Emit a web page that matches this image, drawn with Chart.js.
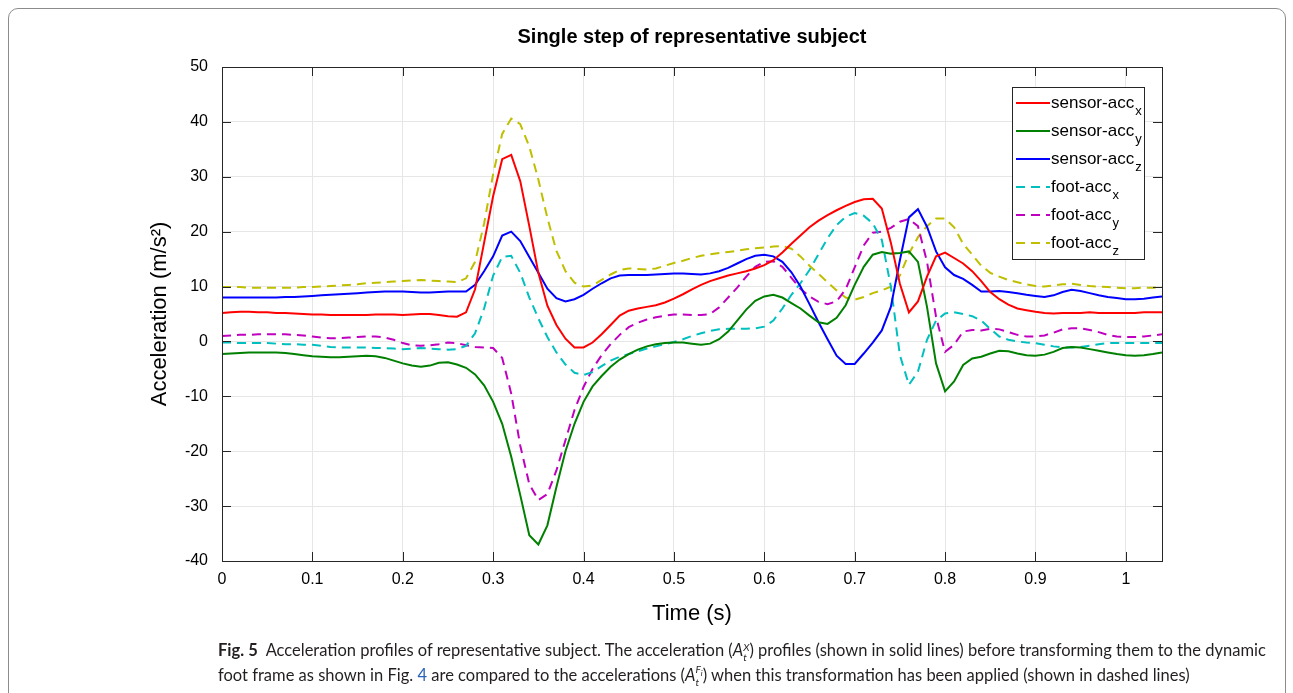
<!DOCTYPE html>
<html>
<head>
<meta charset="utf-8">
<title>Single step of representative subject</title>
<script src="https://cdn.jsdelivr.net/npm/chart.js@4.4.1/dist/chart.umd.min.js"></script>
<style>
    body { margin: 0; background: #fff; }
    #frame {
        position: absolute; left: 8px; top: 8px; width: 1276px; height: 720px;
        border: 1px solid #8c8c8c; border-radius: 10px;
    }
    #wrap { position: absolute; left: 0; top: 0; width: 1293px; height: 693px; }
    .caption {
        position: absolute; left: 218px; top: 638px;
        font-family: Lato, "Noto Sans", sans-serif; font-size: 16.5px; line-height: 25px;
        color: #231f20; white-space: nowrap;
    }
    .caption b { font-weight: 700; }
    .caption .lnk { color: #2a63b8; }
    .stack { display: inline-block; vertical-align: -0.45em; font-size: 0.62em; line-height: 0.95; text-align: left; }
    .stack span { display: block; }
</style>
</head>
<body>
<div id="frame"></div>
<div id="wrap"><canvas id="chart"></canvas></div>
<div class="caption">
    <div><b>Fig. 5</b>&nbsp; Acceleration profiles of representative subject. The acceleration (<i>A</i><span class="stack"><span><i>X</i></span><span><i>t</i></span></span>) profiles (shown in solid lines) before transforming them to the dynamic</div>
    <div>foot frame as shown in Fig. <span class="lnk">4</span> are compared to the accelerations (<i>A</i><span class="stack"><span><i>F<sub style="font-size:0.8em">i</sub></i></span><span><i>t</i></span></span>) when this transformation has been applied (shown in dashed lines)</div>
</div>
<script>
// Datos (muestras cada 0.01 s)
const times = [0, 0.01, 0.02, 0.03, 0.04, 0.05, 0.06, 0.07, 0.08, 0.09,
    0.1, 0.11, 0.12, 0.13, 0.14, 0.15, 0.16, 0.17, 0.18, 0.19,
    0.2, 0.21, 0.22, 0.23, 0.24, 0.25, 0.26, 0.27, 0.28, 0.29,
    0.3, 0.31, 0.32, 0.33, 0.34, 0.35, 0.36, 0.37, 0.38, 0.39,
    0.4, 0.41, 0.42, 0.43, 0.44, 0.45, 0.46, 0.47, 0.48, 0.49,
    0.5, 0.51, 0.52, 0.53, 0.54, 0.55, 0.56, 0.57, 0.58, 0.59,
    0.6, 0.61, 0.62, 0.63, 0.64, 0.65, 0.66, 0.67, 0.68, 0.69,
    0.7, 0.71, 0.72, 0.73, 0.74, 0.75, 0.76, 0.77, 0.78, 0.79,
    0.8, 0.81, 0.82, 0.83, 0.84, 0.85, 0.86, 0.87, 0.88, 0.89,
    0.9, 0.91, 0.92, 0.93, 0.94, 0.95, 0.96, 0.97, 0.98, 0.99,
    1, 1.01, 1.02, 1.03, 1.04];

const sensorAccX = [5.2, 5.3, 5.4, 5.4, 5.3, 5.3, 5.2, 5.2, 5.1, 5.0,
    4.9, 4.9, 4.8, 4.8, 4.8, 4.8, 4.8, 4.9, 4.9, 4.9,
    4.8, 4.9, 5.0, 5.0, 4.8, 4.6, 4.5, 5.3, 9.5, 18,
    26.5, 33.2, 34.0, 29.2, 21.0, 12.5, 6.5, 3.0, 0.5, -1.1,
    -1.1, -0.2, 1.3, 3.0, 4.7, 5.6, 6.0, 6.3, 6.6, 7.1,
    7.8, 8.6, 9.5, 10.3, 11.0, 11.5, 12.0, 12.4, 12.8, 13.3,
    13.9, 14.8, 16.2, 17.8, 19.3, 20.8, 22.0, 23.0, 23.9, 24.7,
    25.4, 25.9, 26.0, 24.2, 18.0, 10.5, 5.3, 7.3, 11.8, 15.5,
    16.2, 15.2, 14.2, 12.8, 11.0, 9.0, 7.7, 6.7, 6.0, 5.7,
    5.4, 5.2, 5.1, 5.2, 5.2, 5.2, 5.3, 5.2, 5.2, 5.2,
    5.2, 5.2, 5.3, 5.3, 5.3];

const sensorAccY = [-2.3, -2.2, -2.1, -2.0, -2.0, -2.0, -2.0, -2.1, -2.3, -2.5,
    -2.7, -2.8, -2.9, -2.9, -2.8, -2.7, -2.6, -2.7, -3.0, -3.5,
    -4.0, -4.4, -4.6, -4.4, -3.9, -3.8, -4.2, -4.8, -6.0, -8.0,
    -11.0, -15.0, -21.0, -28.0, -35.3, -37.0, -33.5, -26.5, -20.0, -15.0,
    -11.0, -8.2, -6.3, -4.6, -3.3, -2.3, -1.5, -0.9, -0.5, -0.3,
    -0.2, -0.2, -0.4, -0.6, -0.4, 0.4, 1.8, 3.8, 5.8, 7.4,
    8.2, 8.5, 8.0, 7.0, 6.0, 4.7, 3.5, 3.2, 4.3, 6.6,
    10.3, 13.6, 15.8, 16.3, 16.0, 16.1, 16.4, 14.5, 6.3, -4.0,
    -9.1, -7.3, -4.3, -3.1, -2.8, -2.2, -1.7, -1.8, -2.2, -2.5,
    -2.6, -2.4, -1.9, -1.2, -1.0, -1.1, -1.4, -1.7, -2.0, -2.3,
    -2.5, -2.6, -2.5, -2.3, -2.0];

const sensorAccZ = [8.0, 8.0, 8.0, 8.0, 8.0, 8.0, 8.0, 8.1, 8.1, 8.2,
    8.3, 8.4, 8.5, 8.6, 8.7, 8.8, 8.9, 9.0, 9.1, 9.1,
    9.1, 9.0, 8.9, 8.9, 9.0, 9.1, 9.1, 9.1, 10.3, 12.8,
    15.5, 19.3, 20.0, 18.3, 15.4, 12.5, 9.6, 7.9, 7.3, 7.7,
    8.5, 9.6, 10.6, 11.5, 12.0, 12.1, 12.1, 12.1, 12.2, 12.3,
    12.4, 12.4, 12.3, 12.2, 12.4, 12.8, 13.4, 14.2, 15.0, 15.6,
    15.8, 15.5, 14.5, 12.6, 10.0, 6.8, 3.5, 0.4, -2.6, -4.1,
    -4.1, -2.2, -0.2, 2.0, 6.3, 14.8, 22.6, 24.1, 20.9, 16.4,
    13.5, 12.1, 11.4, 10.3, 9.1, 9.1, 9.2, 9.0, 8.8, 8.5,
    8.3, 8.1, 8.4, 9.0, 9.4, 9.2, 8.8, 8.4, 8.1, 7.9,
    7.7, 7.7, 7.8, 8.0, 8.2];

const footAccX = [-0.2, -0.2, -0.3, -0.3, -0.3, -0.3, -0.4, -0.5, -0.5, -0.6,
    -0.6, -0.8, -1.0, -1.1, -1.1, -1.1, -1.1, -1.2, -1.2, -1.3,
    -1.4, -1.3, -1.2, -1.3, -1.4, -1.5, -1.4, -0.8, 1.5, 6.0,
    12.0, 15.4, 15.6, 12.5, 8.0, 4.2, 0.8, -2.0, -4.2, -5.7,
    -6.1, -5.6, -4.5, -3.5, -2.8, -2.3, -1.8, -1.3, -0.9, -0.5,
    -0.1, 0.4, 1.0, 1.5, 1.9, 2.2, 2.3, 2.3, 2.3, 2.4,
    2.7, 3.8, 6.0, 8.5, 10.6, 13.0, 15.9, 18.8, 21.2, 22.7,
    23.4, 22.9, 21.5, 18.5, 10.0, -2.5, -7.9, -5.5, 0.3, 3.8,
    5.1, 5.3, 5.0, 4.6, 3.8, 2.3, 0.9, 0.3, 0.0, -0.2,
    -0.3, -0.6, -0.9, -1.1, -1.1, -1.0, -0.8, -0.5, -0.3, -0.3,
    -0.3, -0.3, -0.3, -0.3, -0.3];

const footAccY = [1.0, 1.1, 1.2, 1.2, 1.3, 1.3, 1.3, 1.3, 1.2, 1.1,
    0.9, 0.7, 0.6, 0.6, 0.7, 0.8, 0.9, 0.9, 0.7, 0.3,
    -0.3, -0.7, -0.8, -0.7, -0.5, -0.2, -0.3, -0.7, -1.0, -1.1,
    -1.2, -3.0, -9.5, -19.0, -26.0, -28.9, -27.8, -23.5, -18.0, -12.5,
    -8.3, -5.0, -2.5, -0.5, 1.2, 2.6, 3.4, 4.0, 4.4, 4.7,
    4.9, 4.9, 4.8, 4.8, 5.0, 6.2, 8.0, 9.8, 11.8, 13.6,
    14.5, 14.6, 13.6, 11.6, 9.6, 8.2, 7.2, 6.8, 7.3, 9.5,
    13.5, 17.5, 19.8, 20.0, 20.7, 21.8, 22.3, 21.0, 14.5, 4.5,
    -1.9, -0.6, 1.8, 2.1, 2.0, 2.3, 2.2, 1.7, 1.2, 0.9,
    0.9, 1.1, 1.6, 2.2, 2.4, 2.4, 2.1, 1.7, 1.2, 0.9,
    0.8, 0.8, 0.9, 1.1, 1.3];

const footAccZ = [9.9, 9.9, 9.9, 9.8, 9.8, 9.8, 9.8, 9.8, 9.8, 9.9,
    9.9, 10.0, 10.1, 10.2, 10.3, 10.4, 10.6, 10.7, 10.8, 10.9,
    11.0, 11.1, 11.2, 11.1, 11.0, 10.9, 10.8, 11.5, 14.5, 21.5,
    30.5, 37.8, 40.6, 39.6, 35.5, 29.5, 22.5, 16.5, 12.8, 10.7,
    10.0, 10.2, 11.2, 12.2, 13.0, 13.3, 13.2, 13.1, 13.3, 13.8,
    14.3, 14.7, 15.2, 15.6, 15.9, 16.1, 16.3, 16.5, 16.8, 17.0,
    17.1, 17.3, 17.4, 16.9, 15.5, 13.8, 12.3, 10.8, 9.3, 8.0,
    7.6, 8.1, 8.8, 9.3, 10.0, 12.0, 16.0, 19.0, 21.0, 22.4,
    22.4, 20.8, 17.8, 15.8, 13.8, 12.5, 11.8, 11.2, 10.8, 10.4,
    10.1, 10.0, 10.2, 10.4, 10.5, 10.3, 10.1, 10.0, 9.9, 9.8,
    9.7, 9.7, 9.8, 9.8, 9.9];

// Nombres de series (texto base + subíndice)
const seriesNames = ['sensor-acc', 'sensor-acc', 'sensor-acc', 'foot-acc', 'foot-acc', 'foot-acc'];
const seriesSubs = ['x', 'y', 'z', 'x', 'y', 'z'];
const seriesValues = [sensorAccX, sensorAccY, sensorAccZ, footAccX, footAccY, footAccZ];
const seriesColors = ['#ff0000', '#008000', '#0000ff', '#00bfbf', '#bf00bf', '#bfbf00'];
const seriesDashed = [false, false, false, true, true, true];

// Marcas de los ejes
const xTicks = [0, 0.1, 0.2, 0.3, 0.4, 0.5, 0.6, 0.7, 0.8, 0.9, 1];
const yTicks = [-40, -30, -20, -10, 0, 10, 20, 30, 40, 50];

const axisColor = '#262626';
const fontFamily = '"Liberation Sans", Arial, Helvetica, sans-serif';

// Caja del eje con marcas hacia adentro (estilo MATLAB)
const boxPlugin = {
    id: 'boxTicks',
    afterDatasetsDraw(chart) {
        const { ctx, chartArea: a, scales } = chart;
        const tl = 9;
        ctx.save();
        ctx.strokeStyle = axisColor;
        ctx.lineWidth = 1;
        ctx.beginPath();
        xTicks.forEach(v => {
            const px = Math.round(scales.x.getPixelForValue(v)) + 0.5;
            ctx.moveTo(px, a.bottom); ctx.lineTo(px, a.bottom - tl);
            ctx.moveTo(px, a.top); ctx.lineTo(px, a.top + tl);
        });
        yTicks.forEach(v => {
            const py = Math.round(scales.y.getPixelForValue(v)) + 0.5;
            ctx.moveTo(a.left, py); ctx.lineTo(a.left + tl, py);
            ctx.moveTo(a.right, py); ctx.lineTo(a.right - tl, py);
        });
        ctx.stroke();
        ctx.strokeRect(Math.round(a.left) + 0.5, Math.round(a.top) + 0.5,
            Math.round(a.right - a.left), Math.round(a.bottom - a.top));
        ctx.restore();
    }
};

// Leyenda con subíndices
const legendPlugin = {
    id: 'subLegend',
    afterDraw(chart) {
        const { ctx, chartArea: a } = chart;
        const w = 132, h = 172, rowH = 28;
        const x0 = a.right - 150, y0 = a.top + 20;
        ctx.save();
        ctx.fillStyle = '#fff';
        ctx.fillRect(x0, y0, w, h);
        ctx.strokeStyle = axisColor;
        ctx.lineWidth = 1;
        ctx.strokeRect(x0 + 0.5, y0 + 0.5, w, h);
        chart.data.datasets.forEach((ds, i) => {
            const cy = y0 + 16 + i * rowH;
            ctx.strokeStyle = ds.borderColor;
            ctx.lineWidth = 2;
            ctx.setLineDash(ds.borderDash || []);
            ctx.beginPath();
            ctx.moveTo(x0 + 4, cy);
            ctx.lineTo(x0 + 38, cy);
            ctx.stroke();
            ctx.setLineDash([]);
            ctx.fillStyle = '#000';
            ctx.textBaseline = 'middle';
            ctx.font = '17px ' + fontFamily;
            ctx.fillText(seriesNames[i], x0 + 39, cy);
            const tw = ctx.measureText(seriesNames[i]).width;
            ctx.font = '13px ' + fontFamily;
            ctx.fillText(seriesSubs[i], x0 + 40 + tw, cy + 8);
        });
        ctx.restore();
    }
};

const datasets = seriesValues.map((vals, i) => ({
    label: seriesNames[i] + '_' + seriesSubs[i],
    data: times.map((t, k) => ({ x: t, y: vals[k] })),
    borderColor: seriesColors[i],
    backgroundColor: seriesColors[i],
    borderWidth: 2,
    borderDash: seriesDashed[i] ? [9, 6] : [],
    pointRadius: 0,
    tension: 0,
    fill: false
}));

new Chart(document.getElementById('chart').getContext('2d'), {
    type: 'line',
    data: { datasets: datasets },
    options: {
        responsive: true,
        maintainAspectRatio: false,
        animation: false,
        layout: { padding: { left: 0, right: 131, top: 10, bottom: 0 } },
        plugins: {
            legend: { display: false },
            tooltip: { enabled: false },
            title: {
                display: true,
                text: 'Single step of representative subject',
                fullSize: false,
                color: '#000',
                font: { family: fontFamily, size: 20, weight: 'bold' },
                padding: { top: 15, bottom: 18 }
            }
        },
        scales: {
            x: {
                type: 'linear',
                min: 0,
                max: 1.04,
                afterBuildTicks: s => { s.ticks = xTicks.map(v => ({ value: v })); },
                afterFit: s => { s.height = 132; },
                grid: { color: '#e6e6e6', drawTicks: false },
                border: { display: false },
                ticks: {
                    color: '#000',
                    padding: 9,
                    maxRotation: 0,
                    font: { family: fontFamily, size: 16 },
                    callback: v => String(v)
                },
                title: {
                    display: true,
                    text: 'Time (s)',
                    color: '#000',
                    font: { family: fontFamily, size: 22 },
                    padding: { top: 0, bottom: 66 }
                }
            },
            y: {
                min: -40,
                max: 50,
                afterBuildTicks: s => { s.ticks = yTicks.map(v => ({ value: v })); },
                afterFit: s => { s.width = 222; },
                grid: { color: '#e6e6e6', drawTicks: false },
                border: { display: false },
                ticks: {
                    color: '#000',
                    padding: 14,
                    font: { family: fontFamily, size: 16 },
                    callback: v => String(v)
                },
                title: {
                    display: true,
                    text: 'Acceleration (m/s²)',
                    color: '#000',
                    font: { family: fontFamily, size: 22 },
                    padding: { top: 147, bottom: 0 }
                }
            }
        }
    },
    plugins: [boxPlugin, legendPlugin]
});
</script>
</body>
</html>
